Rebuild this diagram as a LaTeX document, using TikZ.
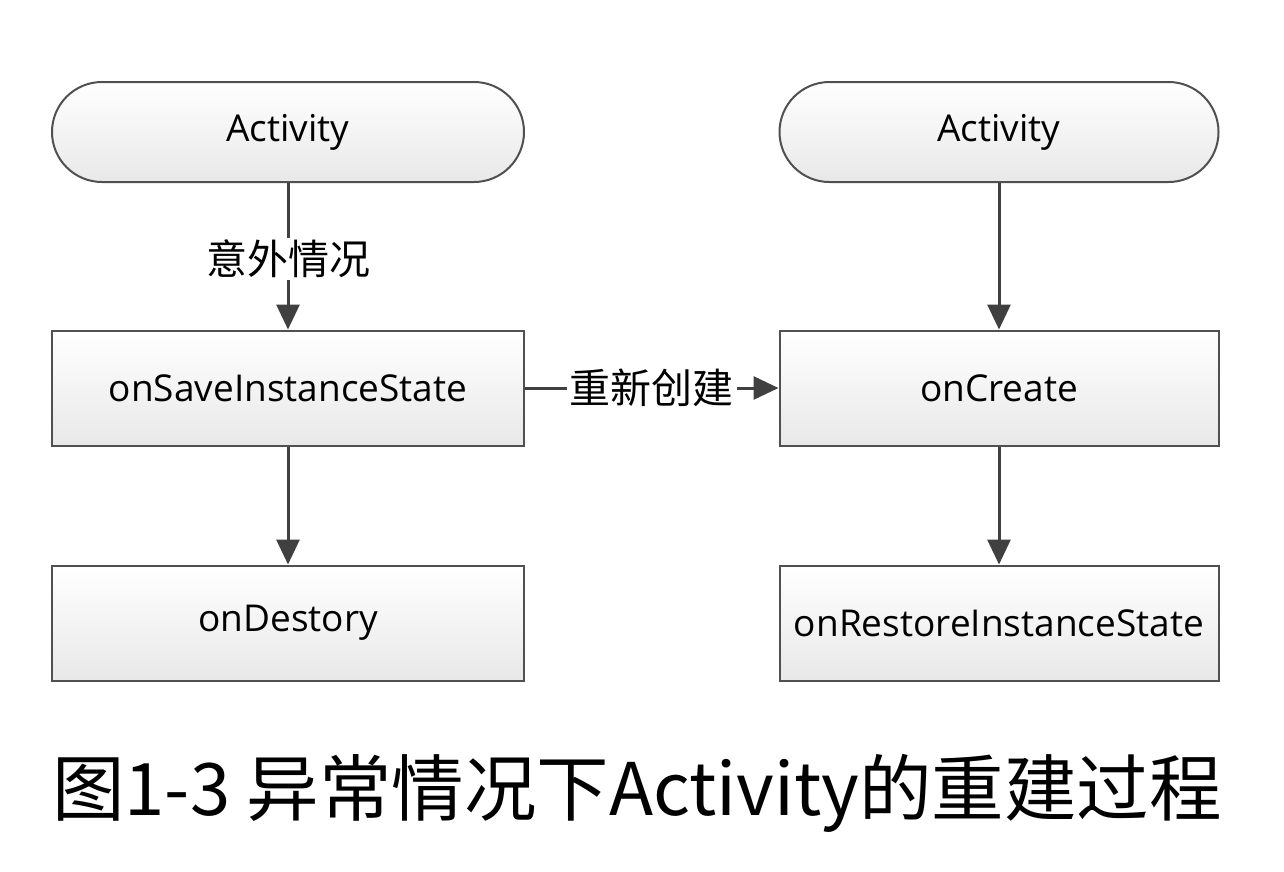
\documentclass[tikz,border=0pt]{standalone}
\usepackage{fontspec}
\setmainfont{Open Sans}
\newfontfamily\cjk{Noto Sans CJK SC}
\usetikzlibrary{arrows.meta,shapes.misc}
\definecolor{edgec}{HTML}{404040}
\definecolor{boxline}{HTML}{505050}
\tikzset{
  x=1pt,y=-1pt,
  procbox/.style={draw=boxline,line width=2pt,top color=white,bottom color=black!9,
    minimum width=472pt,minimum height=115pt,inner sep=0pt,font=\fontsize{37}{42}\selectfont},
  termbox/.style={procbox,rounded corners=50pt,minimum height=100pt},
  flow/.style={draw=edgec,line width=3pt,-{Triangle[length=25pt,width=23pt]}},
  lbl/.style={fill=white,inner sep=2pt,font=\cjk\fontsize{41}{44}\selectfont}
}
\begin{document}
\begin{tikzpicture}
\useasboundingbox (0,0) rectangle (1284,871);
\node[termbox] (a1) at (288,132) {Activity};
\node[procbox] (s) at (288,388) {onSaveInstanceState};
\node[procbox] (d) at (288,623) {onDestory};
\node[termbox,minimum width=439pt] (a2) at (999,132) {Activity};
\node[procbox,minimum width=439pt] (c) at (999,388) {onCreate};
\node[procbox,minimum width=439pt] (r) at (999,623) {onRestoreInstanceState};
\draw[flow] (a1) -- node[lbl,pos=0.52] (l1) {意外情况} (s);
\draw[flow] (s) -- (d);
\draw[flow] (a2) -- (c);
\draw[flow] (c) -- (r);
\draw[flow] (s) -- node[lbl,pos=0.5,inner sep=3pt] (l2) {重新创建} (c);
\node[font=\cjk\fontsize{72.5}{80}\selectfont,anchor=base west,inner sep=0pt] (cap) at (52,815) {图1-3 异常情况下Activity的重建过程};
\end{tikzpicture}
\end{document}
